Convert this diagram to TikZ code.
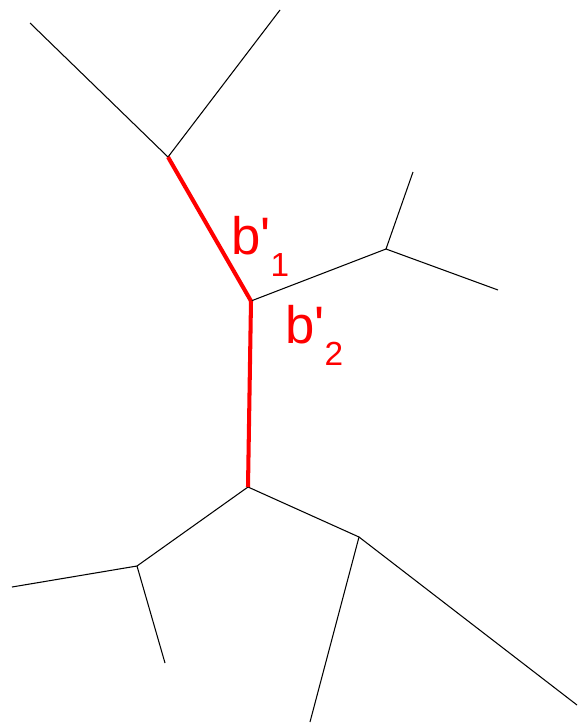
\documentclass[tikz,border=0pt]{standalone}
\usepackage{fontspec}
\newfontfamily\labfont{Liberation Sans}
\usetikzlibrary{positioning}
\definecolor{branchred}{RGB}{255,0,0}
\tikzset{
  branch/.style={black,line width=0.6pt},
  hot/.style={branchred,line width=2.3pt},
  blab/.style={text=branchred,font=\labfont\fontsize{30}{34}\selectfont,inner sep=0pt,anchor=base west}
}
\newcommand{\bsub}[1]{b\textquotesingle\raisebox{-0.42em}{\fontsize{19}{19}\selectfont #1}}

\begin{document}
\begin{tikzpicture}[x=0.02cm,y=-0.02cm]
    \useasboundingbox (0,0) rectangle (579,727);
    % inner vertices
    \coordinate (nA) at (168,157);
    \coordinate (nB) at (251,301);
    \coordinate (nC) at (386,249);
    \coordinate (nD) at (248,487);
    \coordinate (nE) at (137,566);
    \coordinate (nF) at (359,537);
    % leaves
    \coordinate (lA1) at (30,23);
    \coordinate (lA2) at (280,10);
    \coordinate (lC1) at (413,172);
    \coordinate (lC2) at (498,290);
    \coordinate (lE1) at (12,587);
    \coordinate (lE2) at (165,663);
    \coordinate (lF1) at (310,722);
    \coordinate (lF2) at (577,705);
    % black edges
    \draw[branch] (lA1) -- (nA) -- (lA2);
    \draw[branch] (nB) -- (nC);
    \draw[branch] (lC1) -- (nC) -- (lC2);
    \draw[branch] (nE) -- (nD) -- (nF);
    \draw[branch] (lE1) -- (nE) -- (lE2);
    \draw[branch] (lF1) -- (nF) -- (lF2);
    % red edges
    \draw[hot] (nA) -- (nB);
    \draw[hot] (nB) -- (nD);
    \node[blab] (b1) at (231,254) {\bsub{1}};
    \node[blab] (b2) at (285,343) {\bsub{2}};
\end{tikzpicture}
\end{document}
